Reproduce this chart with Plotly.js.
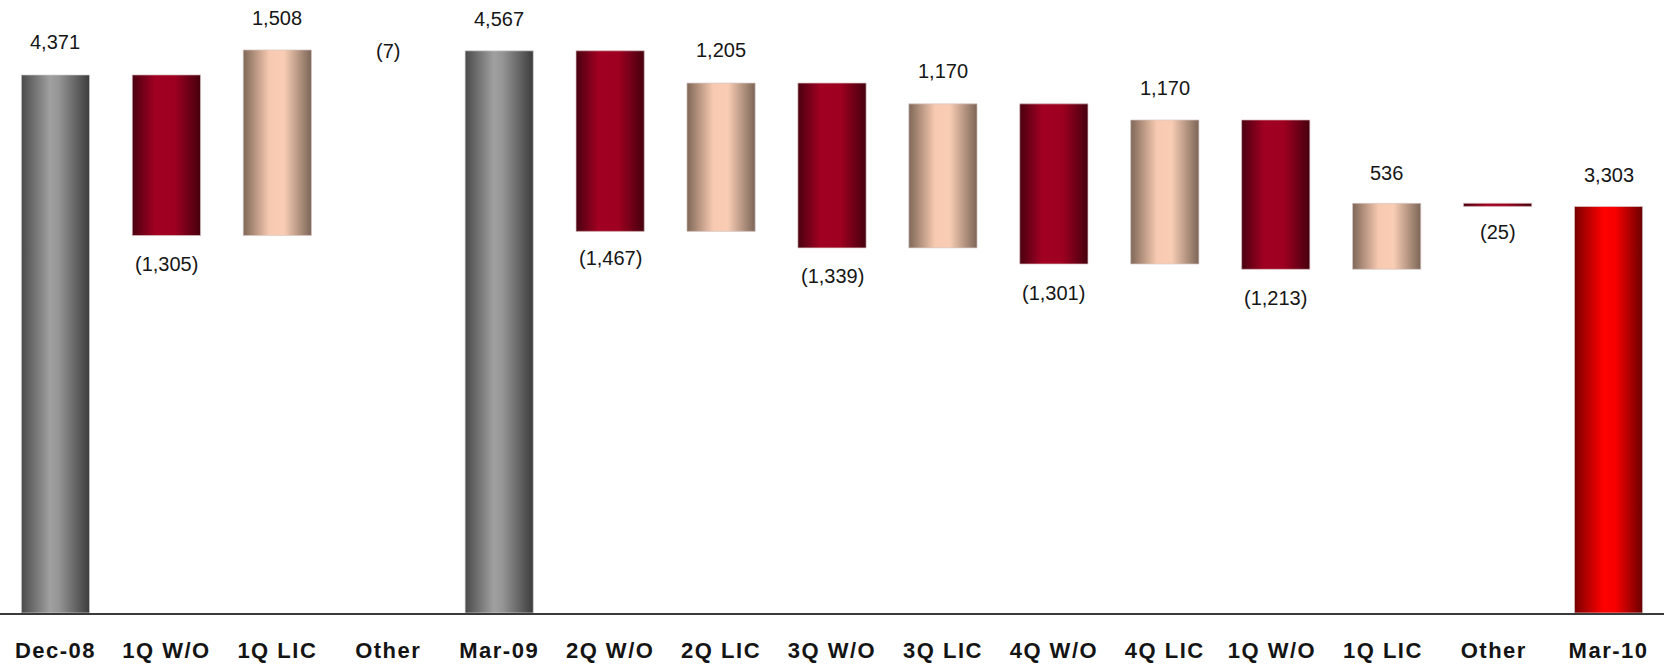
<!DOCTYPE html>
<html>
<head>
<meta charset="utf-8">
<script src="https://cdn.plot.ly/plotly-3.0.1.min.js"></script>
<style>
  html, body { margin: 0; padding: 0; background: #ffffff; }
  #chart { width: 1664px; height: 664px; }
  #chart .xtick text { letter-spacing: 1.5px; }
</style>
</head>
<body>
<svg width="0" height="0" style="position:absolute">
  <defs id="gradDefs"></defs>
</svg>
<div id="chart"></div>
<script>
// ---- data ----
const categories = ["Dec-08", "1Q W/O", "1Q LIC", "Other", "Mar-09", "2Q W/O", "2Q LIC", "3Q W/O", "3Q LIC", "4Q W/O", "4Q LIC", "1Q W/O ", "1Q LIC ", "Other ", "Mar-10"];
const values = [4371, -1305, 1508, -7, 4567, -1467, 1205, -1339, 1170, -1301, 1170, -1213, 536, -25, 3303];
const measures = ["absolute", "relative", "relative", "relative", "absolute", "relative", "relative", "relative", "relative", "relative", "relative", "relative", "relative", "relative", "absolute"];
const barKinds = ["gray", "wo", "lic", "none", "gray", "wo", "lic", "wo", "lic", "wo", "lic", "wo", "lic", "wo", "red"];

// ---- style ----
const labelShift = [33, -28, 32, 0, 32, -27, 33, -28, 33, -29, 32, -29, 30, -26, 31];
const gradients = {
  gray: [[0, "#4a4a4a"], [0.42, "#a0a0a0"], [0.55, "#959595"], [1, "#3c3c3c"]],
  wo:   [[0, "#4a0010"], [0.33, "#a10022"], [0.62, "#9e0020"], [1, "#45000e"]],
  lic:  [[0, "#7f6757"], [0.38, "#f7c9b0"], [0.6, "#f9cdb4"], [1, "#7b6556"]],
  red:  [[0, "#7a0000"], [0.42, "#ff0000"], [0.6, "#f80000"], [1, "#6a0000"]]
};

function fmt(v) {
  const s = Math.abs(v).toLocaleString("en-US");
  return v < 0 ? "(" + s + ")" : s;
}

// compute label anchor positions from the data
const annotations = [];
let cum = 0;
values.forEach((v, i) => {
  let lo, hi;
  if (measures[i] === "absolute") { lo = 0; hi = v; cum = v; }
  else { lo = Math.min(cum, cum + v); hi = Math.max(cum, cum + v); cum += v; }
  annotations.push({
    x: i, xref: "x", y: v < 0 ? lo : hi, yref: "y",
    text: fmt(v), showarrow: false, yanchor: "middle", xanchor: "center",
    yshift: labelShift[i],
    font: { family: "Liberation Sans, Arial, sans-serif", size: 20, color: "#161616" }
  });
});

const trace = {
  type: "waterfall",
  x: categories,
  y: values,
  measure: measures,
  connector: { visible: false },
  textinfo: "none",
  hoverinfo: "x+y",
  increasing: { marker: { color: "#f7c9b0", line: { color: "rgba(215,200,200,0.7)", width: 1 } } },
  decreasing: { marker: { color: "#a10022", line: { color: "rgba(215,190,190,0.7)", width: 1 } } },
  totals: { marker: { color: "#9a9a9a", line: { color: "rgba(215,215,215,0.7)", width: 1 } } }
};

const layout = {
  width: 1664, height: 664,
  margin: { l: 0, r: 0, t: 13, b: 51, pad: 0 },
  paper_bgcolor: "#ffffff", plot_bgcolor: "#ffffff",
  showlegend: false,
  waterfallgap: 0.385,
  xaxis: {
    type: "category",
    range: [-0.5, 14.5],
    showline: true, linecolor: "#3a3a3a", linewidth: 2,
    showgrid: false, zeroline: false,
    ticks: "outside", ticklen: 17, tickcolor: "rgba(0,0,0,0)",
    tickfont: { family: "Liberation Sans, Arial, sans-serif", size: 22, color: "#141414", weight: "bold" },
    fixedrange: true
  },
  yaxis: {
    range: [0, 4874],
    visible: false, showgrid: false, zeroline: false, fixedrange: true
  },
  annotations: annotations
};

const svgNS = "http://www.w3.org/2000/svg";
function buildDefs(container) {
  Object.keys(gradients).forEach(k => {
    if (container.querySelector("#grad-" + k)) return;
    const lg = document.createElementNS(svgNS, "linearGradient");
    lg.setAttribute("id", "grad-" + k);
    lg.setAttribute("x1", "0"); lg.setAttribute("y1", "0");
    lg.setAttribute("x2", "1"); lg.setAttribute("y2", "0");
    gradients[k].forEach(([off, col]) => {
      const st = document.createElementNS(svgNS, "stop");
      st.setAttribute("offset", String(off));
      st.setAttribute("stop-color", col);
      lg.appendChild(st);
    });
    container.appendChild(lg);
  });
}

function applyGradients(gd) {
  const svg = gd.querySelector("svg.main-svg");
  if (svg) {
    let defs = svg.querySelector("defs");
    if (!defs) { defs = document.createElementNS(svgNS, "defs"); svg.insertBefore(defs, svg.firstChild); }
    buildDefs(defs);
  }
  const paths = gd.querySelectorAll("g.point > path");
  paths.forEach((p, i) => {
    const k = barKinds[i];
    if (k === "none") { p.style.setProperty("fill", "none"); p.style.setProperty("stroke", "none"); }
    else if (k) p.style.setProperty("fill", "url(#grad-" + k + ")");
  });
}

buildDefs(document.getElementById("gradDefs"));
const gd = document.getElementById("chart");
Plotly.newPlot(gd, [trace], layout, { displayModeBar: false }).then(() => {
  applyGradients(gd);
  setTimeout(() => applyGradients(gd), 50);
});
</script>
</body>
</html>
